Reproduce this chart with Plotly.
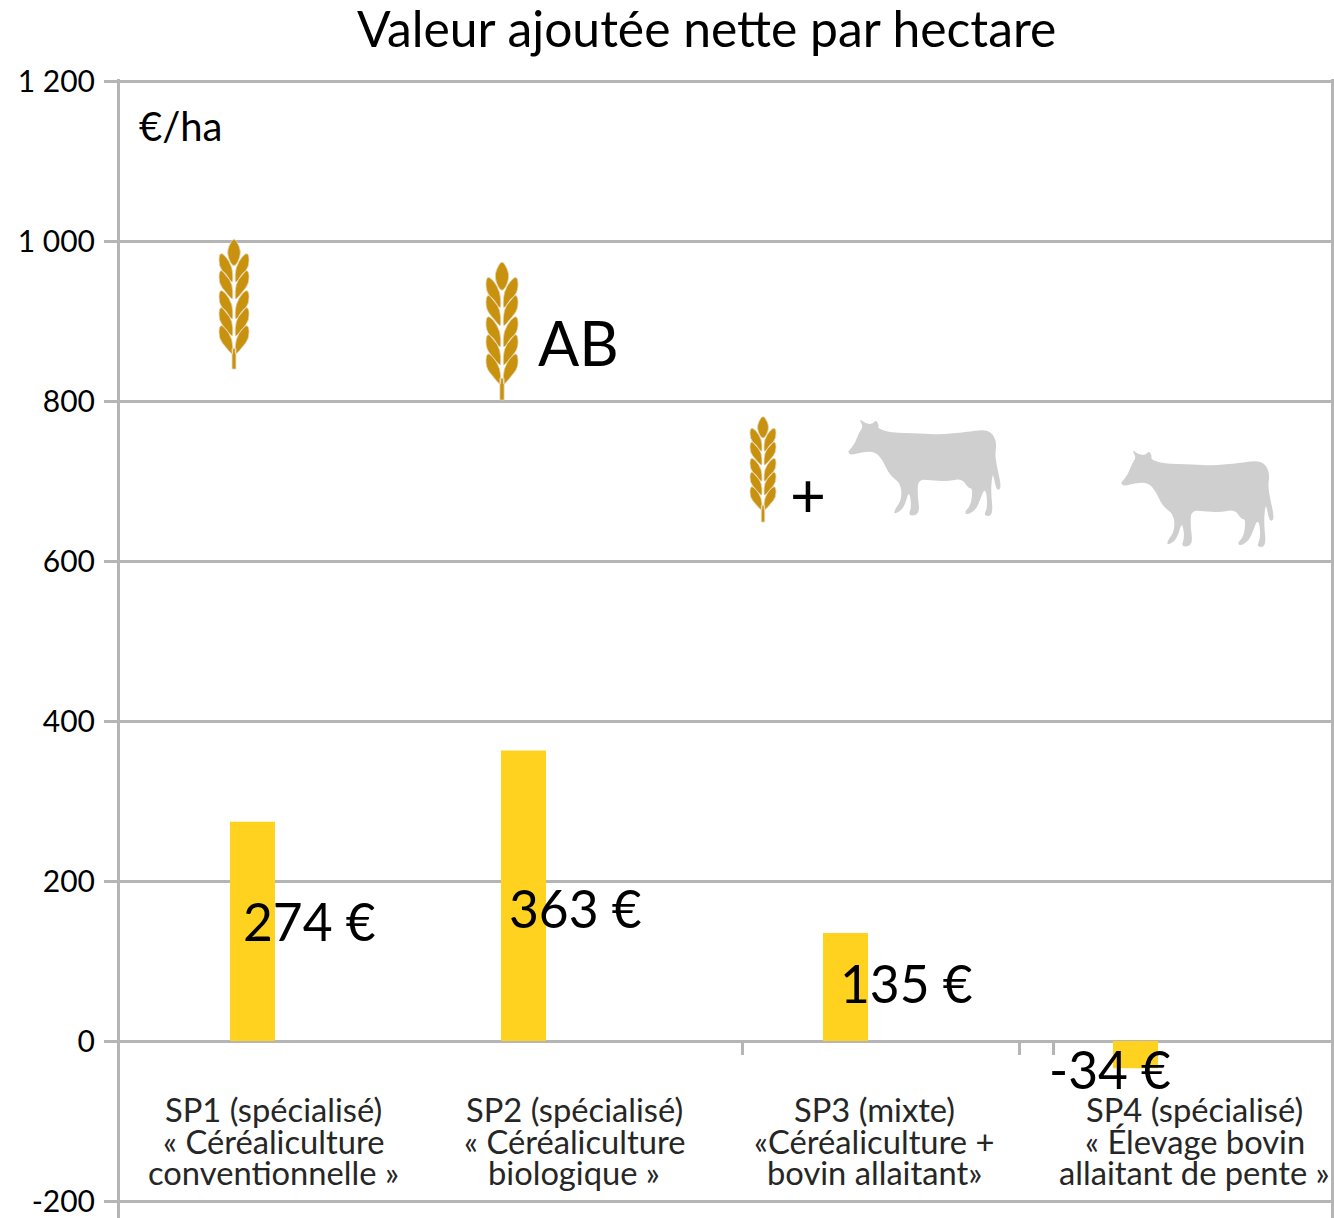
import plotly.graph_objects as go

W, H = 1334, 1218

# ---- data ----
categories = ["SP1", "SP2", "SP3", "SP4"]
values = [274, 363, 135, -34]
value_labels = ["274 €", "363 €", "135 €", "-34 €"]
category_lines = [
    ["SP1 (spécialisé)", "« Céréaliculture", "conventionnelle »"],
    ["SP2 (spécialisé)", "« Céréaliculture", "biologique »"],
    ["SP3 (mixte)", "«Céréaliculture +", "bovin allaitant»"],
    ["SP4 (spécialisé)", "« Élevage bovin", "allaitant de pente »"],
]
y_ticks = [-200, 0, 200, 400, 600, 800, 1000, 1200]
y_tick_labels = ["-200", "0", "200", "400", "600", "800", "1 000", "1 200"]

# ---- layout helpers (pixel placement of the hand-placed chart furniture) ----
bar_centres = [252.5, 523.5, 845.5, 1135.5]
x_tick_marks = [742, 1019, 1053]
cat_centres = [273.5, 574, 874, 1194.5]
cat_line_y = [1109, 1141, 1172]
label_px = [(309.5, 921), (575, 908), (906, 983), (1109.5, 1069)]
FONT = "Lato, Carlito, sans-serif"
GREY = "#b5b5b5"
px = lambda x: x / W
py = lambda y: 1 - y / H


def smooth_path(points):
    """Closed rounded outline through the midpoints of the given polygon."""
    n = len(points)
    mid = lambda a, b: ((a[0] + b[0]) / 2, (a[1] + b[1]) / 2)
    start = mid(points[-1], points[0])
    d = f"M{px(start[0]):.5f},{py(start[1]):.5f}"
    for i in range(n):
        c = points[i]
        e = mid(c, points[(i + 1) % n])
        d += f" Q{px(c[0]):.5f},{py(c[1]):.5f} {px(e[0]):.5f},{py(e[1]):.5f}"
    return d + " Z"


def poly_path(points):
    return "M" + " L".join(f"{px(x):.5f},{py(y):.5f}" for x, y in points) + " Z"


PAIR_TOPS = [0.117, 0.25, 0.406, 0.539, 0.68]
SIDE_GRAIN = [(0.98, -0.03), (0.55, 0.0), (0.1, 0.09), (0.07, 0.19), (0.12, 0.21), (0.55, 0.15), (1.02, 0.08)]
TOP_GRAIN = [(0, -0.03), (0.36, 0.04), (0.45, 0.1), (0.25, 0.17), (0, 0.2), (-0.25, 0.17), (-0.45, 0.1), (-0.36, 0.04)]


def wheat(cx, top, bottom, half):
    L = bottom - top
    parts = [smooth_path([(cx + u * half, top + v * L) for u, v in TOP_GRAIN])]
    for t in PAIR_TOPS:
        for s in (-1, 1):
            parts.append(smooth_path([(cx + s * u * half, top + (t + v) * L) for u, v in SIDE_GRAIN]))
    w = max(1.6, half * 0.13)
    parts.append(poly_path([(cx - w, top + L * 0.84), (cx + w, top + L * 0.84), (cx + w, bottom), (cx - w, bottom)]))
    return " ".join(parts)


COW = [(27, 122), (45, 100), (58, 65), (70, 50), (56, 25), (80, 42), (97, 42), (108, 30), (117, 45),
       (113, 55), (150, 68), (240, 70), (300, 74), (380, 66), (430, 58), (458, 70), (470, 100),
       (465, 135), (472, 175), (485, 235), (470, 242), (462, 205), (458, 190), (452, 240), (460, 318),
       (430, 318), (442, 295), (440, 250), (432, 238), (420, 270), (408, 298), (385, 314), (372, 308),
       (393, 285), (398, 235), (385, 235), (365, 205), (320, 215), (270, 210), (235, 208), (232, 250),
       (240, 314), (204, 318), (215, 290), (207, 240), (192, 295), (163, 314), (163, 300), (185, 270),
       (183, 220), (148, 195), (128, 150), (105, 125), (70, 125), (32, 136), (24, 126)]


def cow(dx, dy):
    return smooth_path([(dx + x / 3, dy + y / 3) for x, y in COW])


fig = go.Figure(go.Bar(x=bar_centres, y=values, width=45, marker=dict(color="#ffd21f", line_width=0),
                       customdata=categories, showlegend=False))

shapes = []
for cx, top, bottom, half in [(234, 241, 369, 15), (502, 264, 400, 16), (763, 418, 522, 13)]:
    shapes.append(dict(type="path", xref="paper", yref="paper", path=wheat(cx, top, bottom, half),
                       fillcolor="#c8920e", line=dict(color="#e3d6b6", width=0.8), layer="above"))
for dx, dy in [(840, 410), (1113, 441)]:
    shapes.append(dict(type="path", xref="paper", yref="paper", path=cow(dx, dy),
                       fillcolor="#cfcfcf", line=dict(width=0), layer="above"))

ann = []


def text(x, y, s, size, color="#000000"):
    ann.append(dict(x=x, y=y, xref="paper", yref="paper", text=s, showarrow=False, xanchor="center",
                    yanchor="middle", font=dict(family=FONT, size=size, color=color)))


text(px(706), py(28), "Valeur ajoutée nette par hectare", 49.8)
text(px(180), py(126), "€/ha", 40)
text(px(578.5), py(342), "AB", 61)
text(px(808), py(493), "+", 62)
for (x, y), s in zip(label_px, value_labels):
    text(px(x), py(y), s, 51.5)
for cx, lines in zip(cat_centres, category_lines):
    for y, line in zip(cat_line_y, lines):
        text(px(cx), py(y), line, 32.7, color="#262626")

fig.update_layout(
    width=W, height=H, margin=dict(l=0, r=0, t=0, b=0, pad=0), autosize=False,
    plot_bgcolor="white", paper_bgcolor="white", shapes=shapes, annotations=ann,
    font=dict(family=FONT),
    xaxis=dict(domain=[px(120), px(1331)], range=[120, 1331], anchor="free", position=py(1041),
               automargin=False, showgrid=False, zeroline=False, showline=True, linecolor=GREY, linewidth=3,
               layer="below traces", tickmode="array", tickvals=x_tick_marks, ticktext=["", "", ""],
               ticks="outside", ticklen=12, tickwidth=3, tickcolor=GREY),
    yaxis=dict(domain=[0, py(79.4)], range=[-221.25, 1202], automargin=False, tickmode="array",
               tickvals=y_ticks, ticktext=y_tick_labels, showgrid=True, gridcolor=GREY, gridwidth=3,
               zeroline=False, showline=True, mirror=True, linecolor=GREY, linewidth=3, ticks="outside",
               ticklen=13, tickwidth=3, tickcolor=GREY,
               tickfont=dict(family=FONT, size=30, color="#000000"), ticklabelstandoff=3),
)
fig.write_html("out.html", config=dict(displayModeBar=False),
               post_script="document.body.style.margin='0';document.documentElement.style.overflow='hidden';")
